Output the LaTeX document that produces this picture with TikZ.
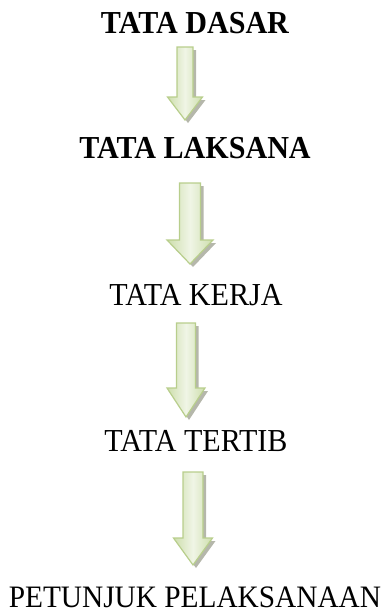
\documentclass[tikz,border=0pt]{standalone}
\usepackage{fontspec}
\setmainfont{Liberation Serif}[FakeStretch=0.94]
\definecolor{arrline}{RGB}{184,206,140}
\definecolor{arrlight}{RGB}{240,245,230}
\definecolor{arrdark}{RGB}{205,222,172}
\definecolor{arrshadow}{RGB}{150,152,135}
\tikzset{
  lbl/.style={anchor=base, inner sep=0pt, font=\fontsize{32}{36}\selectfont},
  lblb/.style={lbl, font=\fontsize{32}{36}\selectfont\bfseries},
  arrbody/.style={draw=arrline, line width=1.2pt, left color=arrdark, right color=arrdark, middle color=arrlight, line join=miter},
  arrshad/.style={fill=arrshadow, opacity=0.7}
}
% #1 center x, #2 top, #3 head start, #4 tip, #5 half shaft, #6 half head
\newcommand\greenarrow[6]{%
  \fill[arrshad] (#1-#5+3,#2+3) -- (#1+#5+3,#2+3) -- (#1+#5+3,#3+3) -- (#1+#6+3,#3+3) -- (#1+3,#4+3) -- (#1-#6+3,#3+3) -- (#1-#5+3,#3+3) -- cycle;
  \path[arrbody] (#1-#5,#2) -- (#1+#5,#2) -- (#1+#5,#3) -- (#1+#6,#3) -- (#1,#4) -- (#1-#6,#3) -- (#1-#5,#3) -- cycle;
}
\begin{document}
\begin{tikzpicture}[x=1pt,y=-1pt]
\useasboundingbox (0,0) rectangle (383,614);
\node[lblb] (dasar) at (195,33) {TATA DASAR};
\node[lblb] (laksana) at (195,158) {TATA LAKSANA};
\node[lbl] (kerja) at (196,305) {TATA KERJA};
\node[lbl] (tertib) at (196,451) {TATA TERTIB};
\node[lbl, font=\fontsize{31.2}{36}\selectfont] (petunjuk) at (195,607) {PETUNJUK PELAKSANAAN};
\greenarrow{185}{47}{97}{120}{8}{17.5}
\greenarrow{190}{183}{240}{264}{10.5}{23}
\greenarrow{186}{323}{388}{417}{9.5}{19}
\greenarrow{193}{472}{538}{565}{10}{19.5}
\end{tikzpicture}
\end{document}
